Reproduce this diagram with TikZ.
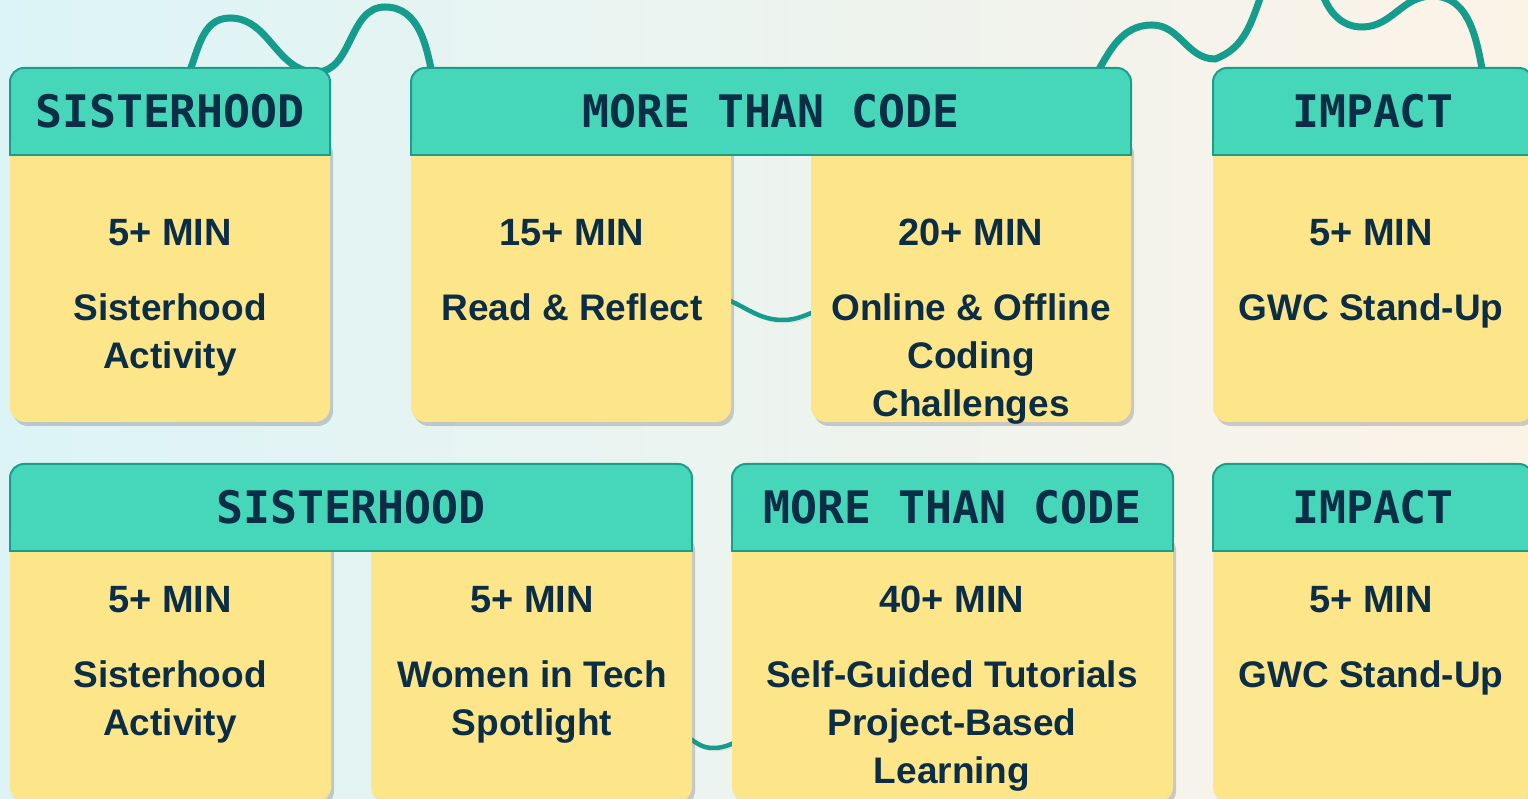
\documentclass[tikz,border=0pt]{standalone}
\usepackage{fontspec}
\setmainfont{Liberation Sans}
\newfontfamily\monofont{DejaVu Sans Mono}
\usetikzlibrary{calc,shadows}
\pgfdeclarelayer{back}
\pgfsetlayers{back,main}

\definecolor{hdrfill}{HTML}{46D7BB}
\definecolor{hdrline}{HTML}{1B9E89}
\definecolor{bodyfill}{HTML}{FDE589}
\definecolor{ink}{HTML}{0B2E46}
\definecolor{wavec}{HTML}{159C8D}
\definecolor{bgl}{HTML}{DCF4F7}
\definecolor{bgm}{HTML}{EEF5F0}
\definecolor{bgr}{HTML}{FCF3E7}

% square off the lower corners of a header
\newcommand\hdrfoot[1]{%
  \fill[hdrfill] ($(#1.south west)+(0,16)$) rectangle (#1.south east);
  \draw[hdrline, line width=2pt] ($(#1.south west)+(0,16)$) |- (#1.south east) -- ++(0,16);}

\begin{document}
\begin{tikzpicture}[x=1pt, y=1pt,
  hdr/.style={draw=hdrline, line width=2pt, fill=hdrfill, rounded corners=14pt, anchor=north west,
    minimum height=87pt, inner sep=0pt, outer sep=0pt, text=ink,
    font=\monofont\bfseries\fontsize{44.8}{50}\selectfont},
  bodybox/.style={fill=bodyfill, rounded corners=15pt, anchor=north west, inner sep=0pt, outer sep=0pt,
    drop shadow={shadow xshift=3pt, shadow yshift=-4pt, opacity=0.3, fill=black!60}}]
  \tikzstyle{mins}=[anchor=base, text=ink, font=\bfseries\fontsize{38}{48}\selectfont]
  \tikzstyle{task}=[anchor=base, align=center, text=ink, font=\bfseries\fontsize{37}{48}\selectfont]
  \tikzstyle{wave}=[draw=wavec, line width=7pt, line cap=round,
    preaction={draw=black, opacity=0.12, transform canvas={xshift=2pt, yshift=-3pt}}]
  \tikzstyle{wavethin}=[wave, line width=4.5pt]

\useasboundingbox (0,0) rectangle (1528,799);
\begin{pgfonlayer}{back}
  \shade[left color=bgl, middle color=bgm, right color=bgr] (0,0) rectangle (1528,799);
\end{pgfonlayer}

\node[bodybox, minimum width=320pt, minimum height=287pt] (sis1b) at (10,664) {};
\node[bodybox, minimum width=320pt, minimum height=287pt] (read1) at (411,664) {};
\node[bodybox, minimum width=320pt, minimum height=287pt] (code1) at (811,664) {};
\node[bodybox, minimum width=320pt, minimum height=287pt] (imp1b) at (1213,664) {};

\node[bodybox, minimum width=321pt, minimum height=271pt] (sis2b) at (10,268) {};
\node[bodybox, minimum width=321pt, minimum height=271pt] (wit2) at (371,268) {};
\node[bodybox, minimum width=441pt, minimum height=271pt] (self2) at (732,268) {};
\node[bodybox, minimum width=320pt, minimum height=271pt] (imp2b) at (1213,268) {};

\node[hdr, minimum width=320pt] (sis1) at (10,731) {SISTERHOOD};
\node[hdr, minimum width=720pt] (mtc1) at (411,731) {MORE THAN CODE};
\node[hdr, minimum width=320pt] (imp1) at (1213,731) {IMPACT};
\node[hdr, minimum width=682pt] (sis2) at (10,335) {SISTERHOOD};
\node[hdr, minimum width=441pt] (mtc2) at (732,335) {MORE THAN CODE};
\node[hdr, minimum width=320pt] (imp2) at (1213,335) {IMPACT};
\hdrfoot{sis1} \hdrfoot{mtc1} \hdrfoot{imp1}
\hdrfoot{sis2} \hdrfoot{mtc2} \hdrfoot{imp2}

% base of a task node sits on its last line
\node[mins] (m1) at (170,553) {5+ MIN};
\node[task] (s1) at (170,430) {Sisterhood\\Activity};
\node[mins] (m2) at (572,553) {15+ MIN};
\node[task] (s2) at (572,478) {Read \& Reflect};
\node[mins] (m3) at (971,553) {20+ MIN};
\node[task] (s3) at (971,382) {Online \& Offline\\Coding\\Challenges};
\node[mins] (m4) at (1371,553) {5+ MIN};
\node[task] (s4) at (1371,478) {GWC Stand-Up};

\node[mins] (m5) at (170,186) {5+ MIN};
\node[task] (s5) at (170,63) {Sisterhood\\Activity};
\node[mins] (m6) at (532,186) {5+ MIN};
\node[task] (s6) at (532,63) {Women in Tech\\Spotlight};
\node[mins] (m7) at (952,186) {40+ MIN};
\node[task] (s7) at (952,15) {Self-Guided Tutorials\\Project-Based\\Learning};
\node[mins] (m8) at (1371,186) {5+ MIN};
\node[task] (s8) at (1371,111) {GWC Stand-Up};

\begin{pgfonlayer}{back}
  \draw[wave] ($(sis1.north west)+(176,-12)$) to[out=65,in=180] ++(44,62) to[out=0,in=180] ++(86,-54)
    to[out=0,in=180] ++(69,65) to[out=0,in=100] ($(mtc1.north west)+(22,-12)$);
  \draw[wave] ($(mtc1.north east)+(-38,-12)$) to[out=60,in=180] ++(59,55) to[out=0,in=180] ++(63,-34)
    to[out=20,in=250] ++(47,66) to[out=70,in=110] ++(60,0) to[out=-70,in=180] ++(40,-34)
    to[out=0,in=180] ++(70,31) to[out=0,in=100] ($(imp1.north west)+(271,-12)$);
  \draw[wavethin] ($(read1.south east)+(-8,124)$) to[out=-20,in=180] ++(60,-22)
    to[out=0,in=200] ($(code1.south west)+(8,112)$);
  \draw[wavethin] ($(wit2.south east)+(-8,68)$) to[out=-35,in=180] ++(29,-14)
    to[out=0,in=205] ($(self2.south west)+(8,62)$);
\end{pgfonlayer}

\end{tikzpicture}
\end{document}
